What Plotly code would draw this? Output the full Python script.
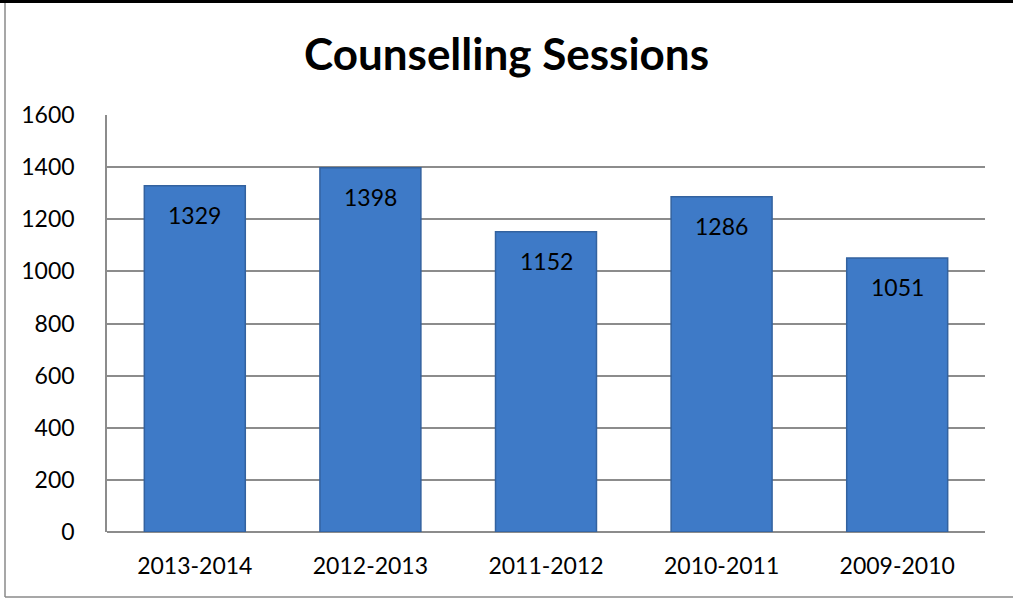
import plotly.graph_objects as go

# Counselling sessions per academic year
years = ["2013-2014", "2012-2013", "2011-2012", "2010-2011", "2009-2010"]
sessions = [1329, 1398, 1152, 1286, 1051]
y_ticks = [0, 200, 400, 600, 800, 1000, 1200, 1400, 1600]

FONT = "Lato"

fig = go.Figure()
fig.add_trace(go.Bar(
    x=years,
    y=sessions,
    marker=dict(color="#3e7ac7", line=dict(color="#33629f", width=1.5)),
    hoverinfo="x+y",
))

# value labels sitting just inside the top of each bar
for yr, v in zip(years, sessions):
    fig.add_annotation(
        x=yr, y=v, text=str(v), showarrow=False,
        yanchor="top", yshift=-13,
        font=dict(family=FONT, size=23, color="#000000"),
    )

# frame around the chart: heavy rule on top, grey rules left and bottom
L, R, T, B, W, H = 107, 28, 115, 70, 1013, 602
pw, ph = W - L - R, H - T - B
def px(x):
    return (x - L) / pw
def py(y):
    return (H - B - y) / ph

fig.add_shape(type="line", xref="paper", yref="paper",
              x0=px(0), x1=px(W), y0=py(1.5), y1=py(1.5),
              line=dict(color="#000000", width=3))
fig.add_shape(type="line", xref="paper", yref="paper",
              x0=px(5), x1=px(5), y0=py(3), y1=py(597),
              line=dict(color="#8a8a8a", width=1.5))
fig.add_shape(type="line", xref="paper", yref="paper",
              x0=px(5), x1=px(W), y0=py(597), y1=py(597),
              line=dict(color="#8a8a8a", width=1.5))

fig.update_layout(
    width=W, height=H,
    margin=dict(l=L, r=R, t=T, b=B),
    paper_bgcolor="#ffffff",
    plot_bgcolor="#ffffff",
    bargap=0.425,
    showlegend=False,
    title=dict(
        text="<b>Counselling Sessions</b>",
        x=0.5, xanchor="center",
        y=1 - 55 / H, yanchor="middle",
        font=dict(family=FONT, size=44, color="#000000"),
    ),
    font=dict(family=FONT, size=23, color="#000000"),
    xaxis=dict(
        showgrid=False, showline=False, zeroline=False,
        ticks="", ticklabelstandoff=18,
        tickfont=dict(family=FONT, size=23, color="#000000"),
    ),
    yaxis=dict(
        range=[0, 1600], tickvals=y_ticks,
        showgrid=True, gridcolor="#8c8c8c", gridwidth=1.5,
        zeroline=True, zerolinecolor="#8c8c8c", zerolinewidth=1.5,
        showline=True, linecolor="#8c8c8c", linewidth=1.5,
        ticks="", ticklabelstandoff=26,
        tickfont=dict(family=FONT, size=23, color="#000000"),
    ),
)

fig.write_html("out.html")
